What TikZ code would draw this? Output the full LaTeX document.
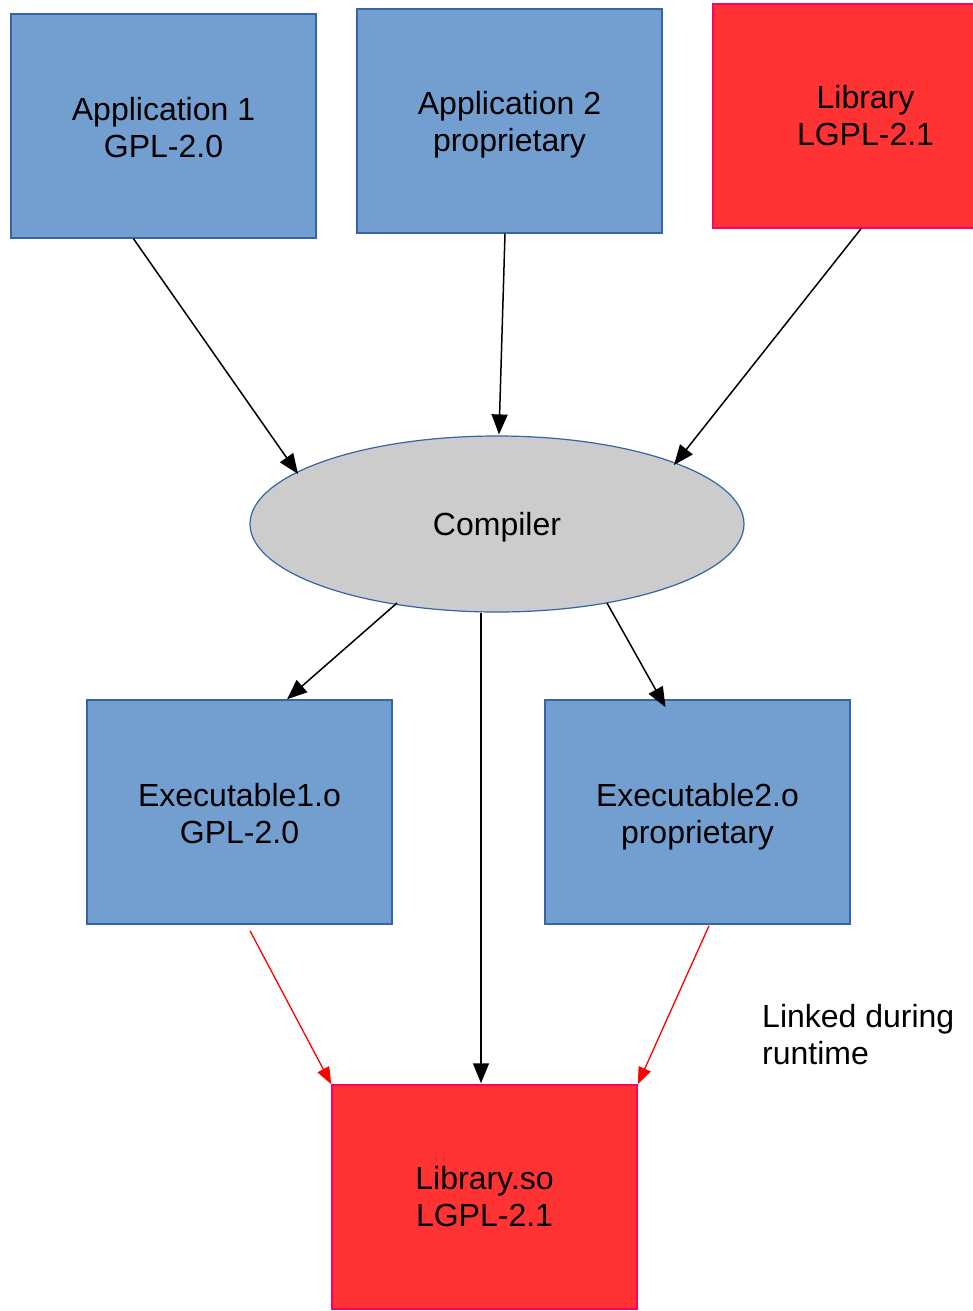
\documentclass[tikz,border=0pt]{standalone}
\usepackage{fontspec}
\setmainfont{Liberation Sans}
\usetikzlibrary{arrows.meta,shapes.geometric}
\definecolor{boxblue}{HTML}{729FCF}
\definecolor{edgeblue}{HTML}{3465A4}
\definecolor{libred}{HTML}{FF3333}
\definecolor{libedge}{HTML}{FF0066}
\definecolor{ellgray}{HTML}{CCCCCC}
\tikzset{
  bluebox/.style={draw=edgeblue, fill=boxblue, line width=1.5pt, minimum width=305pt, minimum height=224pt, inner sep=0pt},
  redbox/.style={draw=libedge, fill=libred, line width=1.5pt, minimum width=305pt, minimum height=224pt, inner sep=0pt},
  txt/.style={inner sep=0pt, align=center, font=\fontsize{32}{37}\selectfont},
  flow/.style={draw=black, line width=1.5pt, -{Triangle[length=20pt,width=16pt]}},
  redflow/.style={draw=red, line width=1.3pt, -{Triangle[length=17pt,width=13pt]}},
}
\begin{document}
\begin{tikzpicture}[x=1pt,y=-1pt]
\useasboundingbox (0,0) rectangle (972,1311);
\node[bluebox] (app1) at (163.5,126) {};
\node[bluebox] (app2) at (509.5,121) {};
\node[redbox] (lib) at (865.5,116) {};
\node[ellipse, draw=edgeblue, fill=ellgray, line width=1.2pt, minimum width=494pt, minimum height=176pt, inner sep=0pt] (comp) at (497,524) {};
\node[bluebox] (exe1) at (239.5,812) {};
\node[bluebox] (exe2) at (697.5,812) {};
\node[redbox] (lso) at (484.5,1197) {};

\node[txt] (app1t) at ([yshift=-1.5pt]app1.center) {Application 1\\GPL-2.0};
\node[txt] (app2t) at ([yshift=-4pt]app2.center) {Application 2\\proprietary};
\node[txt] (libt) at ([yshift=0pt]lib.center) {Library\\LGPL-2.1};
\node[txt] (compt) at ([yshift=-3pt]comp.center) {Compiler};
\node[txt] (exe1t) at ([yshift=-2pt]exe1.center) {Executable1.o\\GPL-2.0};
\node[txt] (exe2t) at ([yshift=-5pt]exe2.center) {Executable2.o\\proprietary};
\node[txt] (lsot) at (lso.center) {Library.so\\LGPL-2.1};
\node[txt, anchor=north west, align=left] (note) at (762,1004) {Linked during\\runtime};

\draw[flow] ([xshift=-30pt]app1.south) -- ([shift={(-199pt,50pt)}]comp.center);
\draw[flow] ([xshift=-4.5pt]app2.south) -- ([xshift=2pt,yshift=1pt]comp.north);
\draw[flow] ([xshift=-4.5pt]lib.south) -- ([shift={(177pt,59pt)}]comp.center);
\draw[flow] ([shift={(-100pt,-79pt)}]comp.center) -- ([xshift=47.5pt]exe1.north);
\draw[flow] ([xshift=-16pt]comp.south) -- ([xshift=-3.5pt,yshift=1pt]lso.north);
\draw[flow] ([shift={(110pt,-79pt)}]comp.center) -- ([xshift=-32pt,yshift=-8pt]exe2.north);
\draw[redflow] ([xshift=10.5pt,yshift=-6pt]exe1.south) -- (lso.north west);
\draw[redflow] ([xshift=11.5pt,yshift=-1pt]exe2.south) -- (lso.north east);
\end{tikzpicture}
\end{document}
